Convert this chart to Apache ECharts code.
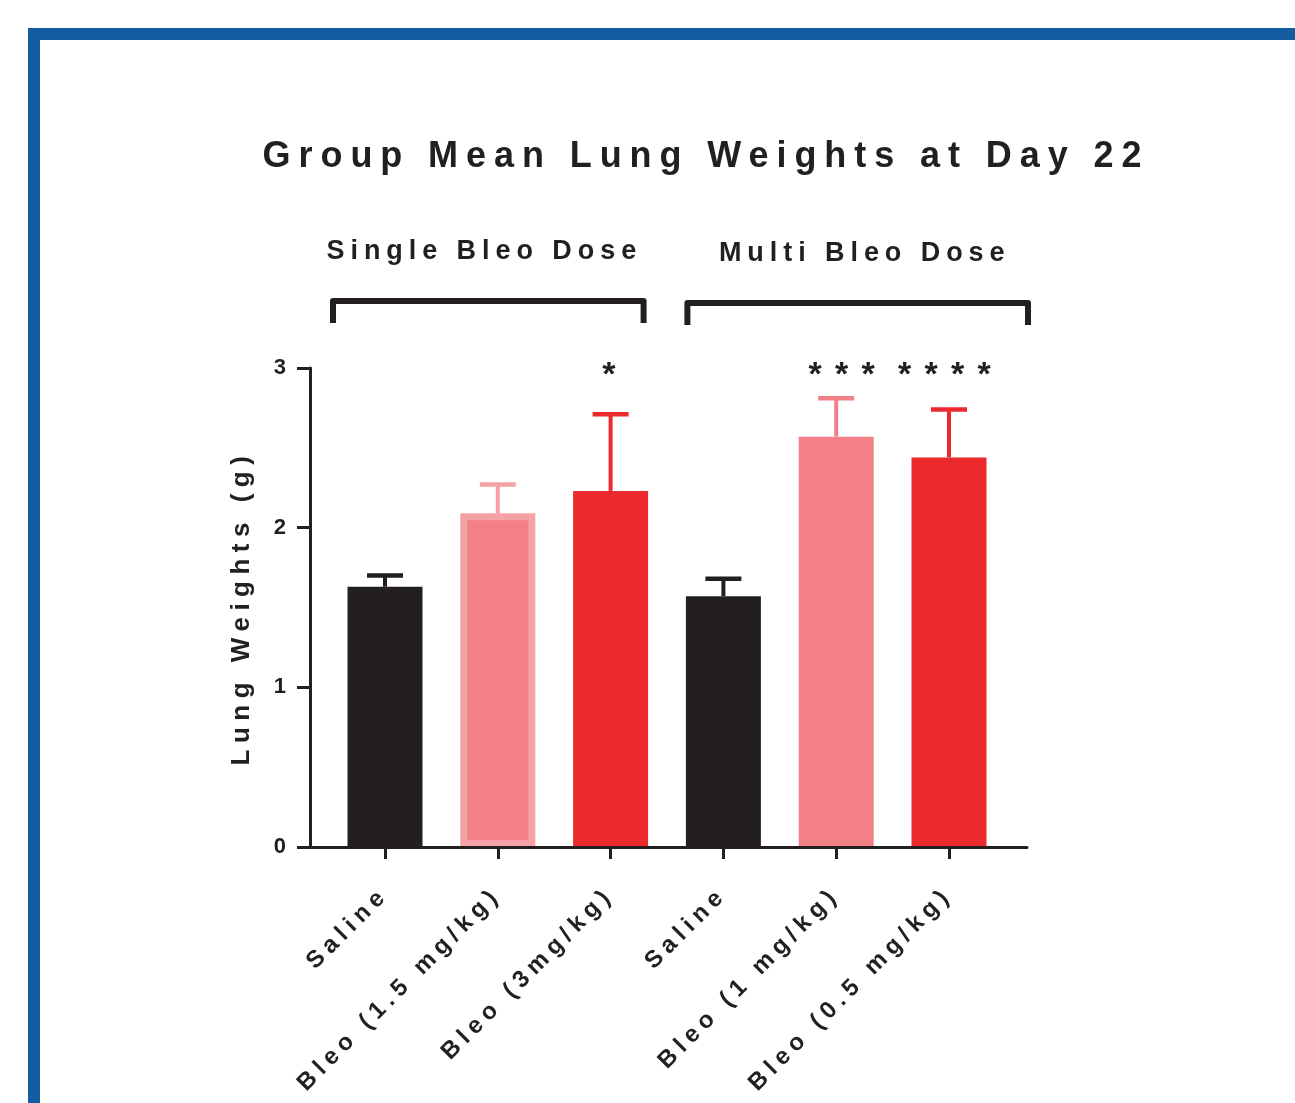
<!DOCTYPE html>
<html>
<head>
<meta charset="utf-8">
<title>Group Mean Lung Weights at Day 22</title>
<script src="https://cdn.jsdelivr.net/npm/echarts@6/dist/echarts.min.js"></script>
<style>
  html, body { margin: 0; padding: 0; background: #ffffff; }
  #chart { width: 1295px; height: 1103px; }
</style>
</head>
<body>
<div id="chart"></div>
<script>
// ---- data ---------------------------------------------------------------
const chartTitle = 'Group Mean Lung Weights at Day 22';
const yAxisTitle = 'Lung Weights (g)';
const categories = ['Saline', 'Bleo (1.5 mg/kg)', 'Bleo (3mg/kg)', 'Saline', 'Bleo (1 mg/kg)', 'Bleo (0.5 mg/kg)'];
const meanWeight = [1.63, 2.09, 2.23, 1.57, 2.57, 2.44];   // g
const sdWeight   = [0.07, 0.18, 0.48, 0.11, 0.24, 0.30];   // upper error bar (g)
const significance = ['', '', '*', '', '***', '****'];
const groupNames = ['Single Bleo Dose', 'Multi Bleo Dose'];
const groupFirst = [0, 3];
const groupLast  = [2, 5];
const yTicks = [0, 1, 2, 3];

// ---- styles -------------------------------------------------------------
const INK = '#231f20';
const BLACK = '#231f20', PINK = '#f28086', PINK_EDGE = '#f5a2a6', RED = '#ec2a2e';
const BAR_STYLE = [
  { fill: BLACK, err: BLACK },
  { fill: PINK, stroke: PINK_EDGE, border: 7, err: PINK_EDGE },
  { fill: RED, err: RED },
  { fill: BLACK, err: BLACK },
  { fill: PINK, err: PINK },
  { fill: RED, err: RED }
];
const BAR_WIDTH = 75;
const CAP_WIDTH = 36;
const STAR_DX = [0, 0, 5, 0, 12, 2];
const FONT = '"Liberation Sans", Arial, Helvetica, sans-serif';
// bracket pixel padding beyond first / last bar centre, and height above the y max
const BRACKET = {
  padL: [52, 36], padR: [33, 79], rise: [67, 65], leg: 22,
  labelRise: [116, 114], labelDx: [-4, 7]
};

// Tracked (letter-spaced) lettering: spacing in em, chosen by font size.
const TRACKING = { 36: 0.22, 27: 0.22, 26: 0.25, 24: 0.24, 34: 0.39 };
const nativeFillText = CanvasRenderingContext2D.prototype.fillText;
CanvasRenderingContext2D.prototype.fillText = function (text, x, y, maxWidth) {
  const m = /(\d+(?:\.\d+)?)px/.exec(this.font);
  const size = m ? parseFloat(m[1]) : 0;
  const em = TRACKING[Math.round(size)] || 0;
  if ('letterSpacing' in this) this.letterSpacing = (em * size).toFixed(2) + 'px';
  return maxWidth === undefined
    ? nativeFillText.call(this, text, x, y)
    : nativeFillText.call(this, text, x, y, maxWidth);
};

const yMax = yTicks[yTicks.length - 1];
const barData = categories.map((c, i) => [i, meanWeight[i]]);
const errData = categories.map((c, i) => [i, meanWeight[i], meanWeight[i] + sdWeight[i]]);
const starData = categories.map((c, i) => [i, yMax]);
const groupData = groupNames.map((g, i) => [groupFirst[i], groupLast[i], i]);

const chart = echarts.init(document.getElementById('chart'), null, { renderer: 'canvas' });

chart.setOption({
  backgroundColor: '#ffffff',
  animation: false,
  textStyle: { fontFamily: FONT },
  graphic: [
    {
      type: 'rect', silent: true, z: 100,
      shape: { x: 34, y: 34, width: 2000, height: 2000 },
      style: { fill: 'none', stroke: '#135c9f', lineWidth: 12 }
    },
    {
      type: 'text', x: 706, y: 157, z: 10,
      style: {
        text: chartTitle, fill: INK, align: 'center', verticalAlign: 'middle',
        font: 'bold 36px ' + FONT
      }
    }
  ],
  grid: [
    { left: 328.6, top: 368, width: 676.8, height: 479 },   // bars
    { left: 310, top: 368, width: 717, height: 479 }        // frame axes
  ],
  xAxis: [
    {
      type: 'category', gridIndex: 0, data: categories,
      axisLine: { show: false },
      axisTick: { show: true, alignWithLabel: true, length: 12, lineStyle: { color: INK, width: 3 } },
      axisLabel: {
        rotate: 45, interval: 0, margin: 44, color: INK,
        fontFamily: FONT, fontWeight: 'bold', fontSize: 24
      },
      splitLine: { show: false }
    },
    {
      type: 'value', gridIndex: 1, min: 0, max: 1, z: 5,
      axisLine: { show: true, lineStyle: { color: INK, width: 3 } },
      axisTick: { show: false }, axisLabel: { show: false }, splitLine: { show: false }
    }
  ],
  yAxis: [
    { type: 'value', gridIndex: 0, min: 0, max: yMax, show: false },
    {
      type: 'value', gridIndex: 1, min: 0, max: yMax, interval: 1,
      name: yAxisTitle, nameLocation: 'middle', nameGap: 55, nameRotate: 90,
      nameTextStyle: { color: INK, fontFamily: FONT, fontWeight: 'bold', fontSize: 26 },
      axisLine: { show: true, lineStyle: { color: INK, width: 3 } },
      axisTick: { show: true, length: 13, lineStyle: { color: INK, width: 3 } },
      axisLabel: {
        margin: 24, color: INK, fontFamily: FONT, fontWeight: 'bold', fontSize: 22,
        padding: [6, 0, 0, 0]
      },
      splitLine: { show: false }
    }
  ],
  series: [
    {
      // bars
      type: 'custom', xAxisIndex: 0, yAxisIndex: 0, z: 2,
      data: barData,
      renderItem(params, api) {
        const i = api.value(0);
        const top = api.coord([i, api.value(1)]);
        const base = api.coord([i, 0]);
        const st = BAR_STYLE[i];
        const lw = st.border || 0;
        return {
          type: 'rect',
          shape: {
            x: top[0] - BAR_WIDTH / 2 + lw / 2, y: top[1] + lw / 2,
            width: BAR_WIDTH - lw, height: base[1] - top[1] - lw
          },
          style: { fill: st.fill, stroke: lw ? st.stroke : null, lineWidth: lw }
        };
      }
    },
    {
      // upper error bars
      type: 'custom', xAxisIndex: 0, yAxisIndex: 0, z: 3,
      data: errData,
      renderItem(params, api) {
        const i = api.value(0);
        const p0 = api.coord([i, api.value(1)]);
        const p1 = api.coord([i, api.value(2)]);
        const color = BAR_STYLE[i].err;
        return {
          type: 'group',
          children: [
            { type: 'line', shape: { x1: p0[0], y1: p0[1], x2: p1[0], y2: p1[1] },
              style: { stroke: color, lineWidth: 4 } },
            { type: 'line', shape: { x1: p1[0] - CAP_WIDTH / 2, y1: p1[1], x2: p1[0] + CAP_WIDTH / 2, y2: p1[1] },
              style: { stroke: color, lineWidth: 4.5 } }
          ]
        };
      }
    },
    {
      // significance stars
      type: 'custom', xAxisIndex: 0, yAxisIndex: 0, z: 4,
      data: starData,
      renderItem(params, api) {
        const i = api.value(0);
        const p = api.coord([i, api.value(1)]);
        return {
          type: 'text', x: p[0] + STAR_DX[i], y: p[1] + 25,
          style: {
            text: significance[i], fill: INK, align: 'center', verticalAlign: 'bottom',
            font: 'bold 34px ' + FONT
          }
        };
      }
    },
    {
      // dose-group brackets with labels
      type: 'custom', xAxisIndex: 0, yAxisIndex: 0, z: 4,
      data: groupData,
      renderItem(params, api) {
        const g = api.value(2);
        const a = api.coord([api.value(0), yMax]);
        const b = api.coord([api.value(1), yMax]);
        const xl = a[0] - BRACKET.padL[g];
        const xr = b[0] + BRACKET.padR[g];
        const yt = a[1] - BRACKET.rise[g];
        const yb = yt + BRACKET.leg;
        return {
          type: 'group',
          children: [
            { type: 'polyline',
              shape: { points: [[xl, yb], [xl, yt], [xr, yt], [xr, yb]] },
              style: { stroke: INK, lineWidth: 6, fill: null, lineJoin: 'round' } },
            { type: 'text', x: (xl + xr) / 2 + BRACKET.labelDx[g], y: a[1] - BRACKET.labelRise[g],
              style: { text: groupNames[g], fill: INK, align: 'center', verticalAlign: 'middle',
                       font: 'bold 27px ' + FONT } }
          ]
        };
      }
    }
  ]
});
</script>
</body>
</html>
